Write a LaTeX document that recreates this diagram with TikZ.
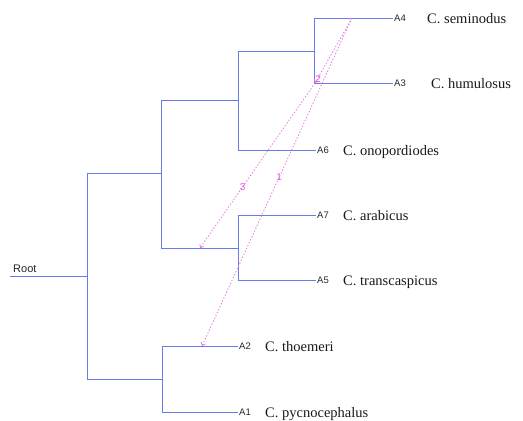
\documentclass[tikz,border=0pt]{standalone}
\usepackage{fontspec}
\setmainfont{Liberation Serif}
\newfontfamily\codefont{Liberation Sans}
\usetikzlibrary{arrows.meta, positioning}
\definecolor{treeblue}{RGB}{104,124,232}
\definecolor{hgtpink}{RGB}{226,92,226}

\begin{document}
\begin{tikzpicture}[
x=1pt, y=-1pt,
node distance=13pt,
branch/.style={draw=treeblue, line width=0.9pt},
code/.style={font=\codefont\fontsize{9.5}{11}\selectfont, text=black!85, inner sep=1pt, anchor=west, text height=7pt, text depth=0pt},
taxon/.style={font=\fontsize{14.5}{16}\selectfont, text=black!90, inner sep=0pt, text height=10pt, text depth=0pt},
transfer/.style={draw=hgtpink!85, line width=0.8pt, dash pattern=on 1.4pt off 1.8pt, -{Straight Barb[length=2.5pt, width=4.5pt]}},
hgt/.style={font=\codefont\fontsize{10}{11}\selectfont, text=hgtpink, inner sep=0.5pt}
]
\useasboundingbox (0,0) rectangle (523,421);

\coordinate (rtip) at (10,276);
\coordinate (root) at (87,276);
\coordinate (nup) at (161,173);
\coordinate (ntop) at (238,100);
\coordinate (n43) at (314,51);
\coordinate (n75) at (238,248);
\coordinate (nlow) at (162,379);

\node[code, font=\codefont\fontsize{11}{12}\selectfont, anchor=south west, inner sep=0pt] (rootname) at (13,273) {Root};

\node[code] (a4) at (393,18) {A4};
\node[code] (a3) at (393,83) {A3};
\node[code] (a6) at (316,150) {A6};
\node[code] (a7) at (316,215) {A7};
\node[code] (a5) at (316,280) {A5};
\node[code] (a2) at (238,346) {A2};
\node[code] (a1) at (238,412) {A1};

\node[taxon, right=20pt of a4] (s4) {C. seminodus};
\node[taxon, right=24pt of a3] (s3) {C. humulosus};
\node[taxon, right=of a6] (s6) {C. onopordiodes};
\node[taxon, right=of a7] (s7) {C. arabicus};
\node[taxon, right=of a5] (s5) {C. transcaspicus};
\node[taxon, right=of a2] (s2) {C. thoemeri};
\node[taxon, right=of a1] (s1) {C. pycnocephalus};

\draw[branch] (rtip) -- (root);
\draw[branch] (root) |- (nup);
\draw[branch] (root) |- (nlow);
\draw[branch] (nup) |- (ntop);
\draw[branch] (nup) |- (n75);
\draw[branch] (ntop) |- (n43);
\draw[branch] (ntop) |- (a6.west);
\draw[branch] (n43) |- (a4.west);
\draw[branch] (n43) |- (a3.west);
\draw[branch] (n75) |- (a7.west);
\draw[branch] (n75) |- (a5.west);
\draw[branch] (nlow) |- (a2.west);
\draw[branch] (nlow) |- (a1.west);

\coordinate (h1a) at (352,18);
\coordinate (h1b) at (202,346);
\coordinate (h2b) at (315,83);
\coordinate (h3b) at (200,248);

\draw[transfer] (h1a) -- node[hgt, pos=0.485] {1} (h1b);
\draw[transfer] (h1a) -- (h2b) node[hgt, anchor=south west, inner sep=0pt] {2};
\draw[transfer] (h2b) -- node[hgt, pos=0.63] {3} (h3b);

\end{tikzpicture}
\end{document}
